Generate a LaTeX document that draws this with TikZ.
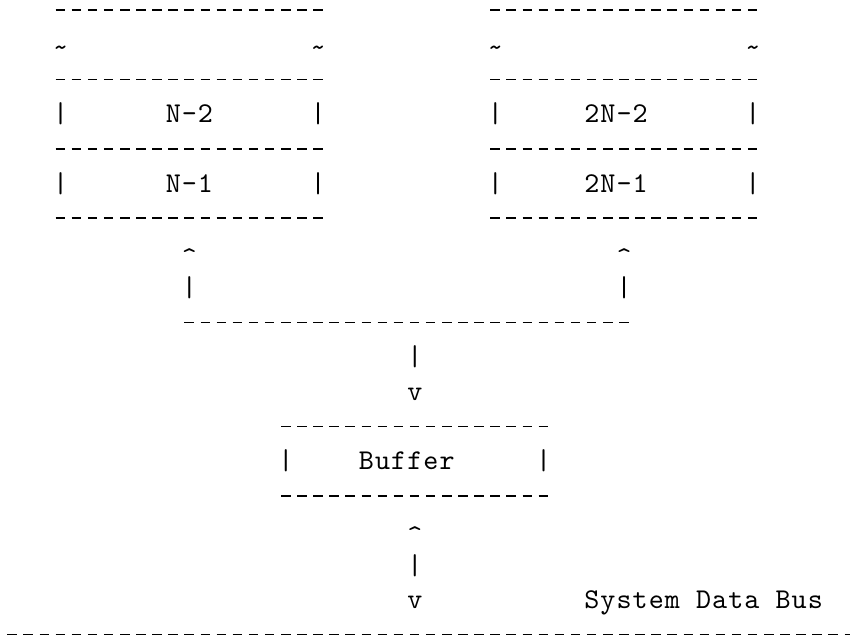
\documentclass[tikz,border=0pt]{standalone}
\usepackage{fontspec}
\newfontfamily\asciifont{lmmono10-regular.otf}[LetterSpace=3.7]
\newcommand\asciitext{\asciifont\fontsize{21.5pt}{26pt}\selectfont}
\newcommand\tld{\raisebox{-2.25pt}{\textasciitilde}}
\newcommand\crt{\raisebox{-3.75pt}{\textasciicircum}}
\begin{document}
\begin{tikzpicture}[x=0.75pt, y=-0.75pt, line cap=butt,
  txt/.style={font=\asciitext, anchor=base west, inner sep=0pt},
  dashrow/.style={line width=1.2pt, dash pattern=on 7.125pt off 4.95pt}]
 \def\cw{16.1} \def\rh{34.7}
 \useasboundingbox (0,0) rectangle (850,635);
 % lines of dashes: first column/last column/row
 \foreach \a/\b/\r in {3/19/0,30/46/0,3/19/2,30/46/2,3/19/4,30/46/4,3/19/6,30/46/6,
   11/38/9,17/33/12,17/33/14,0/52/18}
 \draw[dashrow] ({7.3+\a*\cw},{10+\r*\rh}) -- ({16.8+\b*\cw},{10+\r*\rh});
 % characters: column/row/text
 \foreach \c/\r/\t in {3/1/\tld,19/1/\tld,30/1/\tld,46/1/\tld,
   3/3/|,10/3/N-2,19/3/|,30/3/|,36/3/2N-2,46/3/|,
   3/5/|,10/5/N-1,19/5/|,30/5/|,36/5/2N-1,46/5/|,
   11/7/\crt,38/7/\crt,11/8/|,38/8/|,
   25/10/|,25/11/v,
   17/13/|,22/13/Buffer,33/13/|,
   25/15/\crt,25/16/|,25/17/v,36/17/System Data Bus}
 \node[txt] (t-\c-\r) at ({4.5+\c*\cw},{18.8+\r*\rh}) {\t};
\end{tikzpicture}
\end{document}
